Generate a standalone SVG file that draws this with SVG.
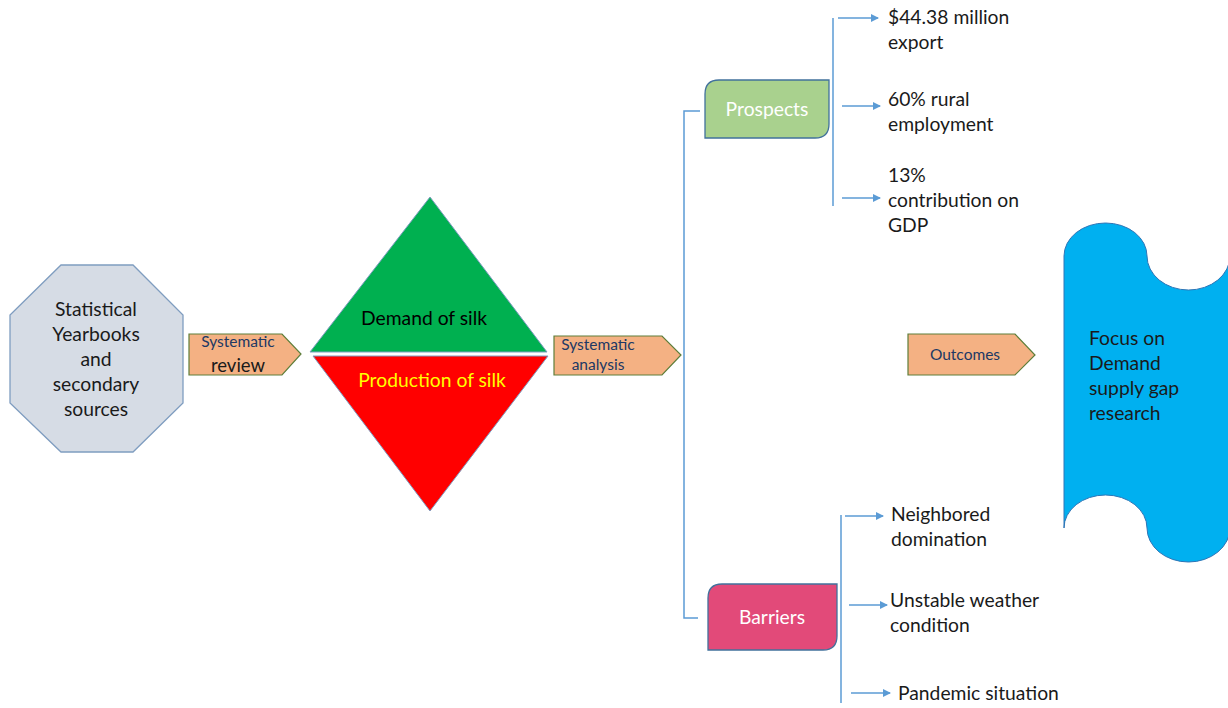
<svg xmlns="http://www.w3.org/2000/svg" width="1228" height="708" viewBox="0 0 1228 708">
<style>
text{font-family:Lato,"Open Sans","Liberation Sans",sans-serif;}
.t{font-size:19.3px;fill:#1a1a1a;}
.c{text-anchor:middle;}
.s{font-size:15.5px;fill:#203864;}
.arr{fill:#F4B183;stroke:#5E7E3A;stroke-width:1.2;}
.ln{stroke:#5B9BD5;stroke-width:1.5;fill:none;}
.ar{stroke:#5B9BD5;stroke-width:1.5;fill:none;marker-end:url(#ah);}
</style>
<defs>
<marker id="ah" markerWidth="8" markerHeight="8" refX="7" refY="4" orient="auto" markerUnits="userSpaceOnUse">
<path d="M0,0 L8,4 L0,8 z" fill="#5B9BD5"/>
</marker>
</defs>
<rect width="1228" height="708" fill="#fff"/>
<g id="connectors">
<path class="ln" d="M700,111 H684 V618 H698"/>
<path class="ln" d="M833,18 V206"/>
<path class="ar" d="M838,18 H878"/>
<path class="ar" d="M842,106 H880"/>
<path class="ar" d="M842,198 H880"/>
<path class="ln" d="M841,515 V703"/>
<path class="ar" d="M845,516 H883"/>
<path class="ar" d="M849,605 H887"/>
<path class="ar" d="M851,693 H890"/>
</g>
<g id="sources">
<polygon points="61,265 133,265 183,315 183,403 133,452 61,452 10,403 10,315" fill="#D6DCE5" stroke="#7F9DC0" stroke-width="1.3"/>
<text class="t c" x="96" y="316">Statistical</text>
<text class="t c" x="96" y="341">Yearbooks</text>
<text class="t c" x="96" y="366">and</text>
<text class="t c" x="96" y="391">secondary</text>
<text class="t c" x="96" y="416">sources</text>
</g>
<g id="review">
<polygon class="arr" points="189,334 282,334 301,354 282,375 189,375"/>
<text class="s c" x="238" y="347">Systematic</text>
<text class="t c" x="238" y="372" style="font-size:18.5px">review</text>
</g>
<g id="demand">
<polygon points="430,197 547,352 310,352" fill="#00B050" stroke="#7F9DC0" stroke-width="1"/>
<text class="t c" x="424" y="325" style="fill:#000">Demand of silk</text>
</g>
<g id="production">
<polygon points="313,356 548,356 430,511" fill="#FF0000" stroke="#7F9DC0" stroke-width="1"/>
<text class="t c" x="432" y="387" style="fill:#FFFF00">Production of silk</text>
</g>
<g id="analysis">
<polygon class="arr" points="554,336 662,336 681,355 662,375 554,375"/>
<text class="s c" x="598" y="350">Systematic</text>
<text class="s c" x="598" y="370">analysis</text>
</g>
<g id="prospects">
<path d="M719,80 H829 V124 Q829,138 815,138 H705 V94 Q705,80 719,80 Z" fill="#A9D18E" stroke="#41719C" stroke-width="1.3"/>
<text class="t c" x="767" y="116" style="fill:#fff">Prospects</text>
</g>
<g id="p1">
<text class="t" x="888" y="24">$44.38 million</text>
<text class="t" x="888" y="49">export</text>
</g>
<g id="p2">
<text class="t" x="888" y="106">60% rural</text>
<text class="t" x="888" y="131">employment</text>
</g>
<g id="p3">
<text class="t" x="888" y="182">13%</text>
<text class="t" x="888" y="207">contribution  on</text>
<text class="t" x="888" y="232">GDP</text>
</g>
<g id="barriers">
<path d="M722,584 H837 V636 Q837,650 823,650 H708 V598 Q708,584 722,584 Z" fill="#E24A79" stroke="#41719C" stroke-width="1.3"/>
<text class="t c" x="772" y="624" style="fill:#fff">Barriers</text>
</g>
<g id="b1">
<text class="t" x="891" y="521">Neighbored</text>
<text class="t" x="891" y="546">domination</text>
</g>
<g id="b2">
<text class="t" x="890" y="607">Unstable weather</text>
<text class="t" x="890" y="632">condition</text>
</g>
<g id="b3">
<text class="t" x="898" y="700">Pandemic situation</text>
</g>
<g id="outcomes">
<polygon class="arr" points="908,334 1015,334 1035,355 1015,375 908,375"/>
<text class="s c" x="965" y="360">Outcomes</text>
</g>
<g id="focus">
<path d="M1064,256 A41.5,33 0 0 1 1147,256 A41.5,34 0 0 0 1230,256 V528 A41.5,34 0 0 1 1147,528 A41.5,33 0 0 0 1064,528 Z" fill="#00B0F0" stroke="#2E75B6" stroke-width="1"/>
<text class="t" x="1089" y="345">Focus on</text>
<text class="t" x="1089" y="370">Demand</text>
<text class="t" x="1089" y="395">supply gap</text>
<text class="t" x="1089" y="420">research</text>
</g>
</svg>
